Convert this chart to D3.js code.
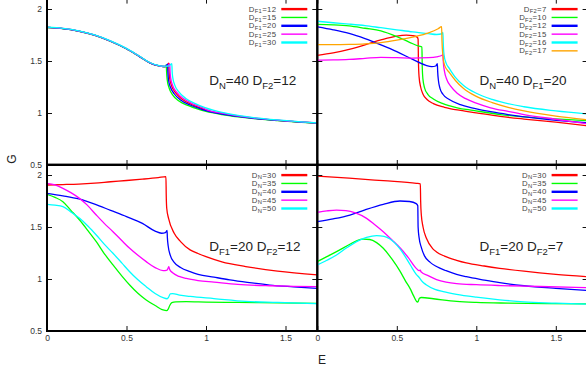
<!DOCTYPE html>
<html>
<head>
<meta charset="utf-8">
<script src="https://cdn.jsdelivr.net/npm/d3@7"></script>
<style>
  body { margin: 0; background: #fff; }
  svg { display: block; font-family: "Liberation Sans", Arial, sans-serif; }
</style>
</head>
<body>
<div id="chart"></div>
<script>
// G vs E, four panels (gnuplot style multiplot)
const width = 586, height = 372;

const xTicks = [0, 0.5, 1, 1.5];
const yTicks = [0.5, 1, 1.5, 2];
const colors = ["#ff0000", "#00ff00", "#0000ff", "#ff00ff", "#00ffff", "#ffa500"];

// top left: D_N=40 D_F2=12, varying D_F1
const tlNames = ["D_{F1}=12", "D_{F1}=15", "D_{F1}=20", "D_{F1}=25", "D_{F1}=30"];
const tlF1_12 = [[0,1.823],[0.1,1.812],[0.2,1.787],[0.3,1.748],[0.4,1.69],[0.5,1.618],[0.58,1.545],[0.65,1.48],[0.7,1.455],[0.73,1.447],
  [0.75,1.447],[0.766,1.48],[0.768,1.40],[0.772,1.33],[0.784,1.26],[0.808,1.195],[0.85,1.132],[0.91,1.082],[0.97,1.046],[1.0,1.028],
  [1.1,0.994],[1.2,0.97],[1.3,0.951],[1.45,0.93],[1.6,0.913],[1.7,0.904]];
const tlF1_15 = [[0,1.822],[0.1,1.811],[0.2,1.786],[0.3,1.747],[0.4,1.689],[0.5,1.617],[0.58,1.544],[0.65,1.479],[0.7,1.454],[0.73,1.446],
  [0.742,1.447],[0.75,1.462],[0.752,1.40],[0.756,1.32],[0.768,1.24],[0.79,1.175],[0.83,1.115],[0.89,1.07],[0.95,1.037],[1.0,1.015],
  [1.1,0.985],[1.2,0.963],[1.3,0.946],[1.45,0.927],[1.6,0.911],[1.7,0.902]];
const tlF1_20 = [[0,1.823],[0.1,1.812],[0.2,1.787],[0.3,1.748],[0.4,1.69],[0.5,1.618],[0.58,1.545],[0.65,1.48],[0.7,1.455],[0.73,1.447],
  [0.745,1.446],[0.758,1.47],[0.76,1.40],[0.764,1.32],[0.776,1.25],[0.8,1.185],[0.84,1.125],[0.9,1.077],[0.96,1.042],[1.0,1.022],
  [1.1,0.99],[1.2,0.967],[1.3,0.949],[1.45,0.929],[1.6,0.912],[1.7,0.903]];
const tlF1_25 = [[0,1.824],[0.1,1.813],[0.2,1.788],[0.3,1.749],[0.4,1.691],[0.5,1.619],[0.58,1.546],[0.65,1.481],[0.7,1.456],[0.73,1.448],
  [0.755,1.448],[0.772,1.475],[0.774,1.40],[0.778,1.335],[0.79,1.265],[0.815,1.2],[0.86,1.136],[0.92,1.086],[0.98,1.05],[1.0,1.035],
  [1.1,0.998],[1.2,0.973],[1.3,0.953],[1.45,0.931],[1.6,0.914],[1.7,0.905]];
const tlF1_30 = [[0,1.825],[0.1,1.814],[0.2,1.79],[0.3,1.751],[0.4,1.693],[0.5,1.621],[0.58,1.548],[0.65,1.483],[0.7,1.458],[0.73,1.45],
  [0.765,1.45],[0.785,1.475],[0.787,1.40],[0.791,1.34],[0.803,1.27],[0.828,1.205],[0.873,1.14],[0.933,1.09],[0.99,1.055],[1.05,1.025],
  [1.1,1.005],[1.2,0.977],[1.3,0.956],[1.45,0.933],[1.6,0.915],[1.7,0.906]];

// top right: D_N=40 D_F1=20, varying D_F2
const trNames = ["D_{F2}=7", "D_{F2}=10", "D_{F2}=12", "D_{F2}=15", "D_{F2}=16", "D_{F2}=17"];
const trF2_7 = [[0,1.555],[0.1,1.578],[0.2,1.612],[0.3,1.655],[0.4,1.703],[0.5,1.74],[0.56,1.748],[0.6,1.743],[0.628,1.73],[0.634,1.71],
  [0.636,1.5],[0.64,1.35],[0.65,1.25],[0.665,1.18],[0.69,1.13],[0.73,1.09],[0.8,1.055],[0.9,1.025],[1.0,1.002],[1.15,0.968],
  [1.3,0.942],[1.5,0.912],[1.7,0.877]];
const trF2_10 = [[0,1.852],[0.1,1.848],[0.2,1.838],[0.3,1.815],[0.4,1.79],[0.5,1.735],[0.58,1.68],[0.64,1.642],[0.658,1.635],
  [0.66,1.45],[0.664,1.33],[0.675,1.24],[0.695,1.18],[0.73,1.135],[0.79,1.09],[0.88,1.05],[0.98,1.025],[1.15,0.985],[1.3,0.963],
  [1.5,0.943],[1.7,0.925]];
const trF2_12 = [[0,1.828],[0.1,1.8],[0.2,1.765],[0.3,1.715],[0.4,1.655],[0.5,1.59],[0.6,1.515],[0.68,1.46],[0.72,1.445],[0.745,1.452],
  [0.755,1.474],[0.757,1.40],[0.762,1.31],[0.772,1.235],[0.79,1.18],[0.83,1.13],[0.9,1.08],[0.98,1.048],[1.1,1.01],[1.2,0.985],
  [1.4,0.945],[1.7,0.905]];
const trF2_15 = [[0,1.508],[0.1,1.51],[0.2,1.515],[0.3,1.525],[0.4,1.535],[0.5,1.532],[0.6,1.528],[0.7,1.532],[0.75,1.54],[0.785,1.555],
  [0.79,1.565],[0.792,1.5],[0.8,1.40],[0.815,1.32],[0.84,1.255],[0.88,1.19],[0.93,1.14],[1.0,1.095],[1.09,1.05],[1.2,1.015],
  [1.3,0.985],[1.5,0.94],[1.7,0.895]];
const trF2_16 = [[0,1.882],[0.1,1.868],[0.2,1.855],[0.3,1.84],[0.4,1.82],[0.5,1.8],[0.6,1.78],[0.7,1.763],[0.75,1.755],[0.785,1.762],
  [0.79,1.775],[0.792,1.68],[0.797,1.56],[0.81,1.48],[0.83,1.43],[0.87,1.34],[0.92,1.265],[1.0,1.19],[1.1,1.13],[1.3,1.06],
  [1.5,1.02],[1.7,0.99]];
const trF2_17 = [[0,1.658],[0.1,1.658],[0.2,1.66],[0.3,1.665],[0.4,1.677],[0.5,1.7],[0.6,1.73],[0.7,1.77],[0.76,1.81],[0.782,1.83],
  [0.784,1.70],[0.79,1.55],[0.8,1.46],[0.83,1.39],[0.87,1.31],[0.92,1.235],[1.0,1.16],[1.1,1.1],[1.2,1.055],[1.3,1.02],
  [1.5,0.97],[1.7,0.935]];

// bottom left: D_F1=20 D_F2=12, varying D_N
const blNames = ["D_{N}=30", "D_{N}=35", "D_{N}=40", "D_{N}=45", "D_{N}=50"];
const blN30 = [[0,1.904],[0.1,1.908],[0.2,1.913],[0.3,1.922],[0.4,1.935],[0.5,1.947],[0.6,1.96],[0.7,1.975],[0.748,1.984],
  [0.75,1.80],[0.753,1.68],[0.765,1.58],[0.8,1.44],[0.84,1.36],[0.9,1.28],[0.95,1.245],[1.0,1.215],[1.1,1.165],[1.25,1.12],
  [1.45,1.075],[1.7,1.04]];
const blN35 = [[0,1.814],[0.05,1.785],[0.1,1.743],[0.15,1.66],[0.205,1.567],[0.26,1.46],[0.31,1.359],[0.36,1.245],[0.415,1.135],
  [0.47,1.03],[0.52,0.942],[0.57,0.865],[0.624,0.798],[0.68,0.745],[0.73,0.702],[0.752,0.695],[0.762,0.71],[0.772,0.745],
  [0.785,0.772],[0.81,0.78],[0.876,0.782],[1.0,0.778],[1.2,0.775],[1.45,0.77],[1.7,0.766]];
const blN40 = [[0,1.824],[0.1,1.8],[0.2,1.77],[0.3,1.72],[0.4,1.66],[0.5,1.6],[0.6,1.535],[0.68,1.46],[0.72,1.44],[0.745,1.445],
  [0.755,1.468],[0.757,1.40],[0.762,1.32],[0.775,1.23],[0.8,1.16],[0.84,1.11],[0.9,1.07],[0.95,1.045],[1.05,1.018],[1.15,0.992],
  [1.26,0.968],[1.4,0.942],[1.55,0.925],[1.7,0.91]];
const blN45 = [[0,1.92],[0.05,1.905],[0.1,1.872],[0.15,1.83],[0.2,1.78],[0.25,1.715],[0.31,1.615],[0.36,1.535],[0.415,1.455],
  [0.47,1.37],[0.52,1.295],[0.57,1.23],[0.624,1.167],[0.68,1.11],[0.73,1.08],[0.755,1.085],[0.762,1.105],[0.766,1.118],
  [0.772,1.09],[0.79,1.06],[0.83,1.025],[0.876,1.005],[0.95,0.985],[1.05,0.97],[1.2,0.948],[1.4,0.935],[1.55,0.93],[1.7,0.926]];
const blN50 = [[0,1.718],[0.05,1.71],[0.1,1.695],[0.15,1.645],[0.205,1.583],[0.26,1.505],[0.31,1.423],[0.36,1.335],[0.415,1.247],
  [0.47,1.155],[0.52,1.07],[0.57,0.995],[0.624,0.926],[0.68,0.86],[0.73,0.82],[0.755,0.81],[0.765,0.825],[0.775,0.858],
  [0.79,0.86],[0.834,0.846],[0.9,0.832],[1.05,0.812],[1.25,0.785],[1.45,0.775],[1.7,0.762]];

// bottom right: D_F1=20 D_F2=7, varying D_N
const brNames = ["D_{N}=30", "D_{N}=35", "D_{N}=40", "D_{N}=45", "D_{N}=50"];
const brN30 = [[0,1.99],[0.2,1.97],[0.415,1.945],[0.624,1.92],[0.648,1.915],[0.65,1.75],[0.654,1.62],[0.665,1.5],[0.687,1.39],
  [0.727,1.29],[0.75,1.26],[0.8,1.22],[0.876,1.18],[0.937,1.155],[1.05,1.125],[1.147,1.103],[1.3,1.075],[1.5,1.045],[1.7,1.022]];
const brN35 = [[0,1.167],[0.06,1.215],[0.121,1.263],[0.205,1.334],[0.25,1.37],[0.289,1.383],[0.33,1.38],[0.373,1.35],[0.415,1.295],
  [0.47,1.19],[0.52,1.075],[0.555,0.98],[0.583,0.91],[0.605,0.84],[0.624,0.785],[0.63,0.778],[0.636,0.79],[0.642,0.815],
  [0.655,0.822],[0.73,0.81],[0.876,0.785],[1.0,0.775],[1.2,0.768],[1.45,0.763],[1.7,0.76]];
const brN40 = [[0,1.551],[0.1,1.578],[0.205,1.615],[0.3,1.665],[0.415,1.718],[0.52,1.75],[0.58,1.745],[0.622,1.725],[0.632,1.705],
  [0.634,1.50],[0.64,1.40],[0.655,1.30],[0.675,1.22],[0.71,1.16],[0.75,1.12],[0.81,1.08],[0.876,1.045],[0.937,1.022],[1.05,0.99],
  [1.147,0.965],[1.3,0.935],[1.5,0.91],[1.7,0.89]];
const brN45 = [[0,1.641],[0.06,1.655],[0.121,1.663],[0.18,1.658],[0.24,1.635],[0.31,1.583],[0.36,1.525],[0.415,1.455],[0.47,1.375],
  [0.52,1.30],[0.57,1.21],[0.624,1.1],[0.64,1.08],[0.648,1.085],[0.652,1.07],[0.7,1.03],[0.75,0.995],[0.81,0.97],[0.876,0.955],
  [1.0,0.945],[1.15,0.937],[1.4,0.928],[1.7,0.917]];
const brN50 = [[0,1.135],[0.06,1.18],[0.121,1.231],[0.185,1.3],[0.247,1.359],[0.31,1.4],[0.373,1.418],[0.42,1.41],[0.457,1.385],
  [0.52,1.29],[0.583,1.14],[0.62,1.05],[0.645,1.007],[0.655,0.985],[0.687,0.942],[0.74,0.9],[0.792,0.878],[0.876,0.852],
  [1.0,0.825],[1.147,0.8],[1.3,0.78],[1.5,0.768],[1.7,0.757]];

const notes = ["D_{N}=40 D_{F2}=12", "D_{N}=40 D_{F1}=20", "D_{F1}=20 D_{F2}=12", "D_{F1}=20 D_{F2}=7"];

// panel layout
const panels = [
  {left: 47, right: 317.3, top: -1.4, bottom: 165, names: tlNames, data: [tlF1_12, tlF1_15, tlF1_20, tlF1_25, tlF1_30], note: notes[0], xLab: false, yLab: true},
  {left: 317.3, right: 587.6, top: -1.4, bottom: 165, names: trNames, data: [trF2_7, trF2_10, trF2_12, trF2_15, trF2_16, trF2_17], note: notes[1], xLab: false, yLab: false},
  {left: 47, right: 317.3, top: 164.6, bottom: 331, names: blNames, data: [blN30, blN35, blN40, blN45, blN50], note: notes[2], xLab: true, yLab: true},
  {left: 317.3, right: 587.6, top: 164.6, bottom: 331, names: brNames, data: [brN30, brN35, brN40, brN45, brN50], note: notes[3], xLab: true, yLab: false}
];

const svg = d3.select("#chart").append("svg")
  .attr("width", width).attr("height", height)
  .attr("viewBox", `0 0 ${width} ${height}`);

const fmt = d3.format("~g");

// text with D_{sub} style subscripts
function subText(sel, str, size, subSize, shift) {
  const parts = str.split(/_\{([^}]*)\}/);
  parts.forEach((t, i) => {
    if (t === "") return;
    const isSub = i % 2 === 1;
    sel.append("tspan")
      .attr("font-size", isSub ? subSize : size)
      .attr("dy", isSub ? shift : (i > 0 ? -shift : 0))
      .text(t);
  });
}

panels.forEach((p, pi) => {
  const x = d3.scaleLinear().domain([0, 1.7]).range([p.left, p.right]);
  const y = d3.scaleLinear().domain([0.5, 2.1]).range([p.bottom, p.top]);
  const g = svg.append("g");

  g.append("clipPath").attr("id", "clip" + pi)
    .append("rect").attr("x", p.left).attr("y", p.top)
    .attr("width", p.right - p.left).attr("height", p.bottom - p.top);

  const line = d3.line().x(d => x(d[0])).y(d => y(d[1])).curve(d3.curveMonotoneX);
  g.append("g").attr("clip-path", `url(#clip${pi})`)
    .selectAll("path").data(p.data).join("path")
    .attr("d", line)
    .attr("fill", "none")
    .attr("stroke", (d, i) => colors[i])
    .attr("stroke-width", 1.3);

  // axes, ticks pointing inward on all four sides
  const axes = [
    g.append("g").attr("transform", `translate(0,${p.bottom})`)
      .call(d3.axisBottom(x).tickValues(xTicks).tickSize(-5).tickPadding(4).tickFormat(p.xLab ? fmt : "")),
    g.append("g").attr("transform", `translate(0,${p.top})`)
      .call(d3.axisTop(x).tickValues(xTicks).tickSize(-5).tickFormat("")),
    g.append("g").attr("transform", `translate(${p.left},0)`)
      .call(d3.axisLeft(y).tickValues(yTicks).tickSize(-5).tickPadding(5).tickFormat(p.yLab ? fmt : "")),
    g.append("g").attr("transform", `translate(${p.right},0)`)
      .call(d3.axisRight(y).tickValues(yTicks).tickSize(-5).tickFormat(""))
  ];
  axes.forEach(a => {
    a.select(".domain").remove();
    a.selectAll("line").attr("stroke", "#111");
    a.selectAll("text").attr("font-size", 8.5).attr("fill", "#333")
      .attr("font-family", "'Liberation Sans', Arial, sans-serif");
  });

  g.append("rect").attr("x", p.left).attr("y", p.top)
    .attr("width", p.right - p.left).attr("height", p.bottom - p.top)
    .attr("fill", "none").attr("stroke", "#000").attr("stroke-width", 2);

  // legend, top right inside the panel
  const leg = g.append("g");
  p.names.forEach((n, i) => {
    const ry = p.top + 10.5 + i * 8.35;
    leg.append("line")
      .attr("x1", p.right - 36).attr("x2", p.right - 10)
      .attr("y1", ry).attr("y2", ry)
      .attr("stroke", colors[i]).attr("stroke-width", i % 2 === 0 ? 2.4 : 1.4);
    leg.append("text")
      .attr("x", p.right - 41).attr("y", ry + 2.5)
      .attr("text-anchor", "end").attr("fill", "#444")
      .attr("letter-spacing", 0.3)
      .call(subText, n, 7.8, 5.8, 1.6);
  });

  g.append("text")
    .attr("x", x(1.02)).attr("y", p.top + 86.5)
    .attr("fill", "#222")
    .call(subText, p.note, 13.5, 9.5, 4);
});

svg.append("text")
  .attr("transform", "translate(16,159) rotate(-90)")
  .attr("text-anchor", "middle").attr("font-size", 12).attr("fill", "#222")
  .text("G");
svg.append("text")
  .attr("x", 322).attr("y", 364)
  .attr("text-anchor", "middle").attr("font-size", 12).attr("fill", "#222")
  .text("E");
</script>
</body>
</html>
